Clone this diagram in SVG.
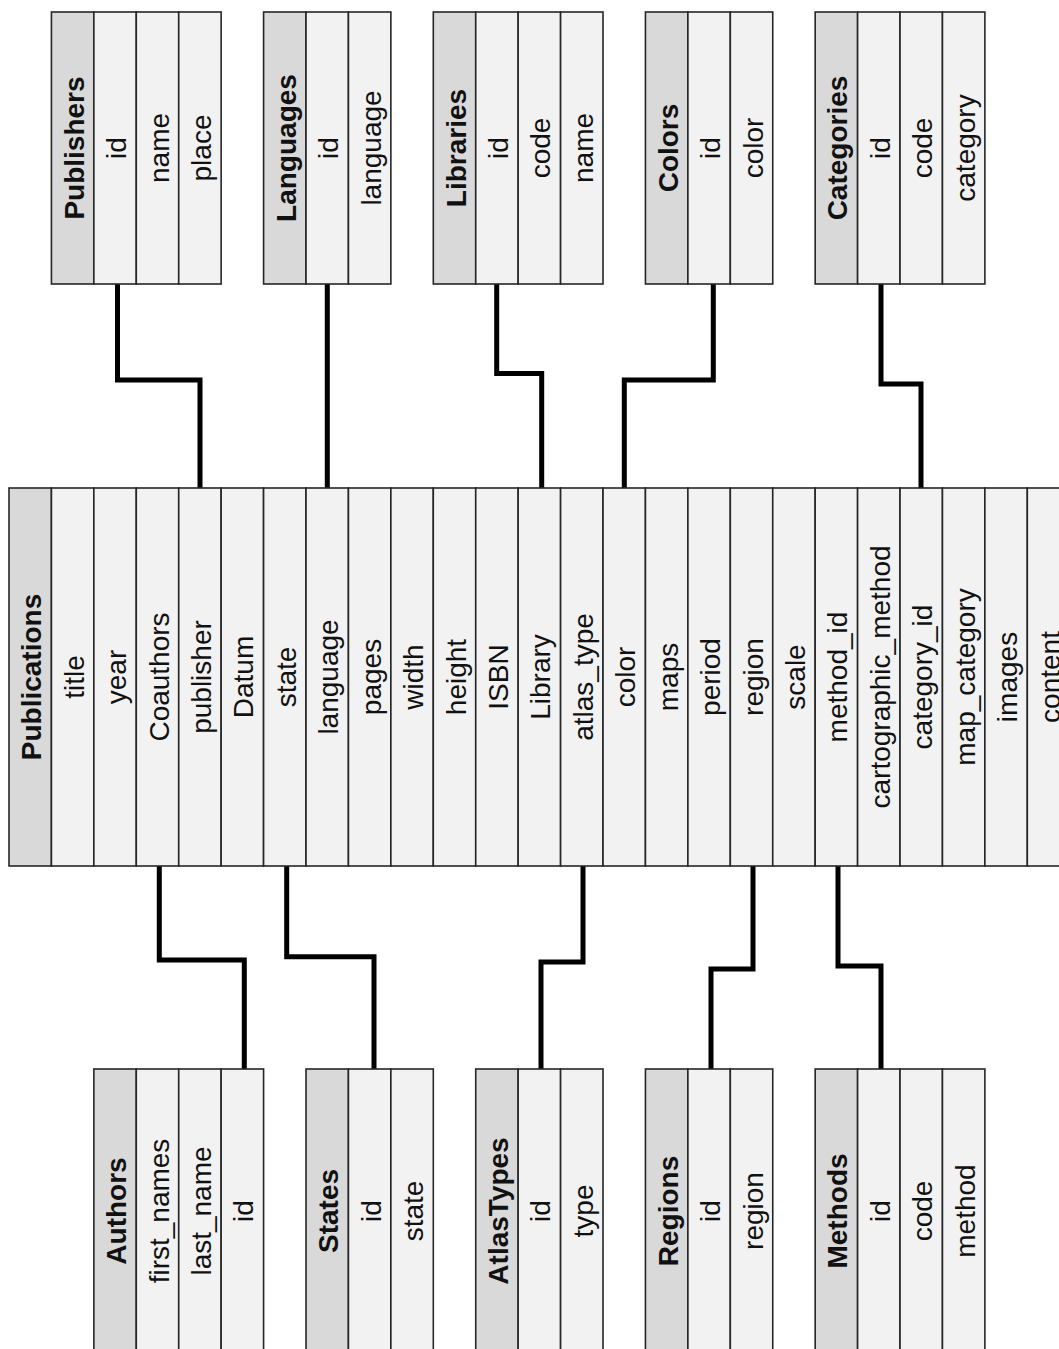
<svg xmlns="http://www.w3.org/2000/svg" width="1059" height="1349" viewBox="0 0 1059 1349">
<style>
.h{fill:#d9d9d9;stroke:#262626;stroke-width:1.6}
.f{fill:#f2f2f2;stroke:#262626;stroke-width:1.6}
text{font-family:"Liberation Sans",Arial,sans-serif;font-size:28px;fill:#111;text-anchor:middle}
.b{font-weight:bold}
.c{fill:none;stroke:#000;stroke-width:5;stroke-linejoin:miter;stroke-linecap:butt}
</style>
<rect width="1059" height="1349" fill="#fff"/>
<g id="connectors">
<path class="c" d="M117.5 284V380H200V488"/>
<path class="c" d="M327.3 284V488"/>
<path class="c" d="M496.7 284V373.5H541.7V488"/>
<path class="c" d="M713.3 284V380H624.3V488"/>
<path class="c" d="M881 284V384H921V488"/>
<path class="c" d="M159.3 866V960H244.3V1069"/>
<path class="c" d="M286.7 866V956.7H374V1069"/>
<path class="c" d="M583 866V962H541V1069"/>
<path class="c" d="M753 866V969H711V1069"/>
<path class="c" d="M838 866V966H881V1069"/>
</g>
<g id="Publications">
<rect class="h" x="9" y="488" width="42.43" height="378"/>
<rect class="f" x="51.43" y="488" width="42.43" height="378"/>
<rect class="f" x="93.86" y="488" width="42.43" height="378"/>
<rect class="f" x="136.29" y="488" width="42.43" height="378"/>
<rect class="f" x="178.72" y="488" width="42.43" height="378"/>
<rect class="f" x="221.15" y="488" width="42.43" height="378"/>
<rect class="f" x="263.58" y="488" width="42.43" height="378"/>
<rect class="f" x="306.01" y="488" width="42.43" height="378"/>
<rect class="f" x="348.44" y="488" width="42.43" height="378"/>
<rect class="f" x="390.87" y="488" width="42.43" height="378"/>
<rect class="f" x="433.3" y="488" width="42.43" height="378"/>
<rect class="f" x="475.73" y="488" width="42.43" height="378"/>
<rect class="f" x="518.16" y="488" width="42.43" height="378"/>
<rect class="f" x="560.59" y="488" width="42.43" height="378"/>
<rect class="f" x="603.02" y="488" width="42.43" height="378"/>
<rect class="f" x="645.45" y="488" width="42.43" height="378"/>
<rect class="f" x="687.88" y="488" width="42.43" height="378"/>
<rect class="f" x="730.31" y="488" width="42.43" height="378"/>
<rect class="f" x="772.74" y="488" width="42.43" height="378"/>
<rect class="f" x="815.17" y="488" width="42.43" height="378"/>
<rect class="f" x="857.6" y="488" width="42.43" height="378"/>
<rect class="f" x="900.03" y="488" width="42.43" height="378"/>
<rect class="f" x="942.46" y="488" width="42.43" height="378"/>
<rect class="f" x="984.89" y="488" width="42.43" height="378"/>
<rect class="f" x="1027.32" y="488" width="42.43" height="378"/>
<text class="b" transform="translate(30.2 677) rotate(-90)" y="11">Publications</text>
<text transform="translate(72.6 677) rotate(-90)" y="11">title</text>
<text transform="translate(115.1 677) rotate(-90)" y="11">year</text>
<text transform="translate(157.5 677) rotate(-90)" y="11">Coauthors</text>
<text transform="translate(199.9 677) rotate(-90)" y="11">publisher</text>
<text transform="translate(242.4 677) rotate(-90)" y="11">Datum</text>
<text transform="translate(284.8 677) rotate(-90)" y="11">state</text>
<text transform="translate(327.2 677) rotate(-90)" y="11">language</text>
<text transform="translate(369.7 677) rotate(-90)" y="11">pages</text>
<text transform="translate(412.1 677) rotate(-90)" y="11">width</text>
<text transform="translate(454.5 677) rotate(-90)" y="11">height</text>
<text transform="translate(497 677) rotate(-90)" y="11">ISBN</text>
<text transform="translate(539.4 677) rotate(-90)" y="11">Library</text>
<text transform="translate(581.8 677) rotate(-90)" y="11">atlas_type</text>
<text transform="translate(624.2 677) rotate(-90)" y="11">color</text>
<text transform="translate(666.7 677) rotate(-90)" y="11">maps</text>
<text transform="translate(709.1 677) rotate(-90)" y="11">period</text>
<text transform="translate(751.5 677) rotate(-90)" y="11">region</text>
<text transform="translate(794 677) rotate(-90)" y="11">scale</text>
<text transform="translate(836.4 677) rotate(-90)" y="11">method_id</text>
<text transform="translate(878.8 677) rotate(-90)" y="11">cartographic_method</text>
<text transform="translate(921.2 677) rotate(-90)" y="11">category_id</text>
<text transform="translate(963.7 677) rotate(-90)" y="11">map_category</text>
<text transform="translate(1006.1 677) rotate(-90)" y="11">images</text>
<text transform="translate(1048.5 677) rotate(-90)" y="11">content</text>
</g>
<g id="Publishers">
<rect class="h" x="51.43" y="12" width="42.43" height="272"/>
<rect class="f" x="93.86" y="12" width="42.43" height="272"/>
<rect class="f" x="136.29" y="12" width="42.43" height="272"/>
<rect class="f" x="178.72" y="12" width="42.43" height="272"/>
<text class="b" transform="translate(72.6 148) rotate(-90)" y="11">Publishers</text>
<text transform="translate(115.1 148) rotate(-90)" y="11">id</text>
<text transform="translate(157.5 148) rotate(-90)" y="11">name</text>
<text transform="translate(199.9 148) rotate(-90)" y="11">place</text>
</g>
<g id="Languages">
<rect class="h" x="263.58" y="12" width="42.43" height="272"/>
<rect class="f" x="306.01" y="12" width="42.43" height="272"/>
<rect class="f" x="348.44" y="12" width="42.43" height="272"/>
<text class="b" transform="translate(284.8 148) rotate(-90)" y="11">Languages</text>
<text transform="translate(327.2 148) rotate(-90)" y="11">id</text>
<text transform="translate(369.7 148) rotate(-90)" y="11">language</text>
</g>
<g id="Libraries">
<rect class="h" x="433.3" y="12" width="42.43" height="272"/>
<rect class="f" x="475.73" y="12" width="42.43" height="272"/>
<rect class="f" x="518.16" y="12" width="42.43" height="272"/>
<rect class="f" x="560.59" y="12" width="42.43" height="272"/>
<text class="b" transform="translate(454.5 148) rotate(-90)" y="11">Libraries</text>
<text transform="translate(497 148) rotate(-90)" y="11">id</text>
<text transform="translate(539.4 148) rotate(-90)" y="11">code</text>
<text transform="translate(581.8 148) rotate(-90)" y="11">name</text>
</g>
<g id="Colors">
<rect class="h" x="645.45" y="12" width="42.43" height="272"/>
<rect class="f" x="687.88" y="12" width="42.43" height="272"/>
<rect class="f" x="730.31" y="12" width="42.43" height="272"/>
<text class="b" transform="translate(666.7 148) rotate(-90)" y="11">Colors</text>
<text transform="translate(709.1 148) rotate(-90)" y="11">id</text>
<text transform="translate(751.5 148) rotate(-90)" y="11">color</text>
</g>
<g id="Categories">
<rect class="h" x="815.17" y="12" width="42.43" height="272"/>
<rect class="f" x="857.6" y="12" width="42.43" height="272"/>
<rect class="f" x="900.03" y="12" width="42.43" height="272"/>
<rect class="f" x="942.46" y="12" width="42.43" height="272"/>
<text class="b" transform="translate(836.4 148) rotate(-90)" y="11">Categories</text>
<text transform="translate(878.8 148) rotate(-90)" y="11">id</text>
<text transform="translate(921.2 148) rotate(-90)" y="11">code</text>
<text transform="translate(963.7 148) rotate(-90)" y="11">category</text>
</g>
<g id="Authors">
<rect class="h" x="93.86" y="1069" width="42.43" height="284"/>
<rect class="f" x="136.29" y="1069" width="42.43" height="284"/>
<rect class="f" x="178.72" y="1069" width="42.43" height="284"/>
<rect class="f" x="221.15" y="1069" width="42.43" height="284"/>
<text class="b" transform="translate(115.1 1211) rotate(-90)" y="11">Authors</text>
<text transform="translate(157.5 1211) rotate(-90)" y="11">first_names</text>
<text transform="translate(199.9 1211) rotate(-90)" y="11">last_name</text>
<text transform="translate(242.4 1211) rotate(-90)" y="11">id</text>
</g>
<g id="States">
<rect class="h" x="306.01" y="1069" width="42.43" height="284"/>
<rect class="f" x="348.44" y="1069" width="42.43" height="284"/>
<rect class="f" x="390.87" y="1069" width="42.43" height="284"/>
<text class="b" transform="translate(327.2 1211) rotate(-90)" y="11">States</text>
<text transform="translate(369.7 1211) rotate(-90)" y="11">id</text>
<text transform="translate(412.1 1211) rotate(-90)" y="11">state</text>
</g>
<g id="AtlasTypes">
<rect class="h" x="475.73" y="1069" width="42.43" height="284"/>
<rect class="f" x="518.16" y="1069" width="42.43" height="284"/>
<rect class="f" x="560.59" y="1069" width="42.43" height="284"/>
<text class="b" transform="translate(497 1211) rotate(-90)" y="11">AtlasTypes</text>
<text transform="translate(539.4 1211) rotate(-90)" y="11">id</text>
<text transform="translate(581.8 1211) rotate(-90)" y="11">type</text>
</g>
<g id="Regions">
<rect class="h" x="645.45" y="1069" width="42.43" height="284"/>
<rect class="f" x="687.88" y="1069" width="42.43" height="284"/>
<rect class="f" x="730.31" y="1069" width="42.43" height="284"/>
<text class="b" transform="translate(666.7 1211) rotate(-90)" y="11">Regions</text>
<text transform="translate(709.1 1211) rotate(-90)" y="11">id</text>
<text transform="translate(751.5 1211) rotate(-90)" y="11">region</text>
</g>
<g id="Methods">
<rect class="h" x="815.17" y="1069" width="42.43" height="284"/>
<rect class="f" x="857.6" y="1069" width="42.43" height="284"/>
<rect class="f" x="900.03" y="1069" width="42.43" height="284"/>
<rect class="f" x="942.46" y="1069" width="42.43" height="284"/>
<text class="b" transform="translate(836.4 1211) rotate(-90)" y="11">Methods</text>
<text transform="translate(878.8 1211) rotate(-90)" y="11">id</text>
<text transform="translate(921.2 1211) rotate(-90)" y="11">code</text>
<text transform="translate(963.7 1211) rotate(-90)" y="11">method</text>
</g>
</svg>
